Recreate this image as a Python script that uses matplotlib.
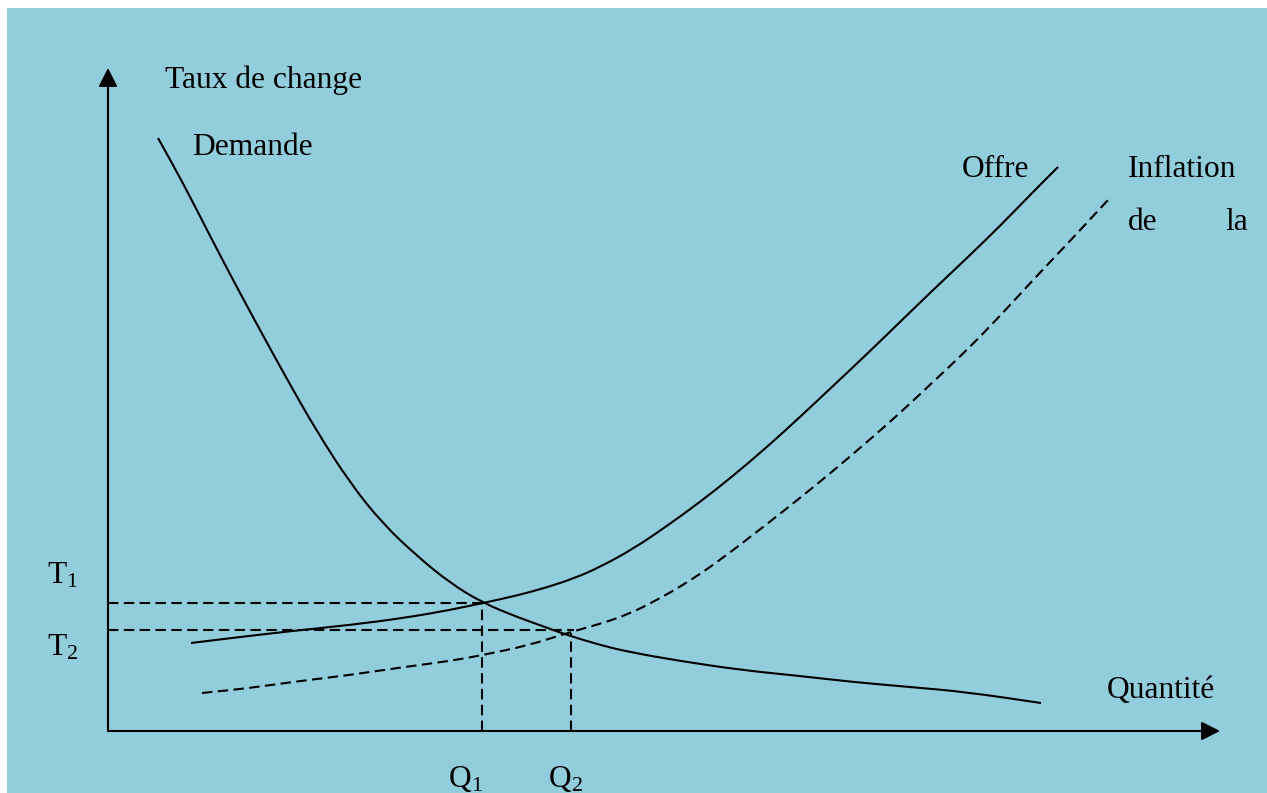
import matplotlib
matplotlib.use("Agg")
import matplotlib.pyplot as plt
from matplotlib.patches import Rectangle, PathPatch
from matplotlib.path import Path

plt.rcParams['font.family'] = ['Liberation Serif', 'DejaVu Serif']
plt.rcParams['mathtext.fontset'] = 'custom'
plt.rcParams['mathtext.rm'] = 'Liberation Serif'
plt.rcParams['mathtext.it'] = 'Liberation Serif:italic'

# ---- data (quantity, exchange rate) ----
demande_q = [50, 75, 99, 125, 152, 180, 208, 242, 275, 309, 342, 375, 409, 437, 459,
             492, 521, 572, 633, 692, 745, 802, 858, 933]
demande_t = [593, 548, 501, 451, 401, 350, 301, 248, 207, 175, 148, 128, 114, 104, 96,
             86, 79, 70, 61, 55, 49, 44, 39, 28]

offre_q = [83, 132, 184, 242, 296, 342, 375, 407, 437, 467, 492, 525, 559, 592, 625,
           659, 692, 725, 759, 792, 825, 859, 892, 925, 950]
offre_t = [88, 94, 100, 106, 113, 121, 128, 135, 143, 153, 164, 182, 205, 229, 255,
           284, 314, 345, 377, 409, 441, 473, 505, 539, 564]

inflation_q = [94, 142, 184, 242, 296, 342, 375, 422, 459, 492, 521, 547, 577, 611, 659,
               692, 725, 759, 792, 825, 859, 892, 925, 962, 1000]
inflation_t = [38, 43, 49, 56, 64, 70, 76, 86, 98, 107, 117, 130, 147, 170, 207,
               233, 260, 289, 318, 349, 381, 415, 451, 490, 531]

T1, T2 = 128, 101
Q1, Q2 = 374, 463
T2_end = 466   # T2 guide runs to the inflation curve
Q2_top = 98

axis_x_max = 1112
axis_y_max = 663

BLUE = '#92CDDC'


def smooth_path(xs, ys):
    """Quadratic-Bezier path using the read points as control points."""
    pts = list(zip(xs, ys))
    verts = [pts[0]]
    codes = [Path.MOVETO]
    mid = lambda a, b: ((a[0] + b[0]) / 2, (a[1] + b[1]) / 2)
    verts.append(mid(pts[0], pts[1]))
    codes.append(Path.LINETO)
    for i in range(1, len(pts) - 1):
        verts += [pts[i], mid(pts[i], pts[i + 1])]
        codes += [Path.CURVE3, Path.CURVE3]
    verts.append(pts[-1])
    codes.append(Path.LINETO)
    return Path(verts, codes)


fig = plt.figure(figsize=(12.67, 7.93), dpi=100)
fig.patch.set_facecolor('white')

ax = fig.add_axes([0, 0, 1, 1])
ax.set_facecolor('none')
ax.set_xlim(-108, 1159)
ax.set_ylim(-62, 731)
ax.axis('off')
ax.add_patch(Rectangle((7 / 1267, 0), 1, 1 - 8 / 793, transform=fig.transFigure,
                       facecolor=BLUE, edgecolor='none', zorder=-10, clip_on=False))

lw = 1.5
dash = (0, (5, 2.6))

# axes with arrows
for tip in [(0, axis_y_max), (axis_x_max, 0)]:
    ax.annotate('', xy=tip, xytext=(0, 0),
                arrowprops=dict(arrowstyle='-|>,head_length=0.75,head_width=0.38',
                                mutation_scale=15, lw=lw, color='black',
                                shrinkA=0, shrinkB=0))

# curves
ax.add_patch(PathPatch(smooth_path(demande_q, demande_t), facecolor='none',
                       edgecolor='black', lw=lw, capstyle='butt'))
ax.add_patch(PathPatch(smooth_path(offre_q, offre_t), facecolor='none',
                       edgecolor='black', lw=lw, capstyle='butt'))
ax.add_patch(PathPatch(smooth_path(inflation_q, inflation_t), facecolor='none',
                       edgecolor='black', lw=lw, linestyle=dash, capstyle='butt'))

# guide lines
ax.plot([0, Q1], [T1, T1], color='black', lw=lw, linestyle=dash)
ax.plot([0, T2_end], [T2, T2], color='black', lw=lw, linestyle=dash)
ax.plot([Q1, Q1], [0, T1], color='black', lw=lw, linestyle=dash)
ax.plot([Q2, Q2], [0, Q2_top], color='black', lw=lw, linestyle=dash)

fs = 22.7
kw = dict(fontsize=fs, va='baseline', color='black')
ax.text(57, 643, 'Taux de change', ha='left', **kw)
ax.text(84, 576, 'Demande', ha='left', **kw)
ax.text(854, 554, 'Offre', ha='left', **kw)
ax.text(1020, 554, 'Inflation', ha='left', **kw)
ax.text(1020, 501, 'de', ha='left', **kw)
ax.text(1140, 501, 'la', ha='right', **kw)
ax.text(999, 33, 'Quantité', ha='left', **kw)
ax.text(-61, 148, r'T$_{\mathrm{1}}$', ha='left', **kw)
ax.text(-61, 76, r'T$_{\mathrm{2}}$', ha='left', **kw)
ax.text(340, -56, r'Q$_{\mathrm{1}}$', ha='left', **kw)
ax.text(440, -56, r'Q$_{\mathrm{2}}$', ha='left', **kw)

fig.savefig('out.png', dpi=100, facecolor='white')
